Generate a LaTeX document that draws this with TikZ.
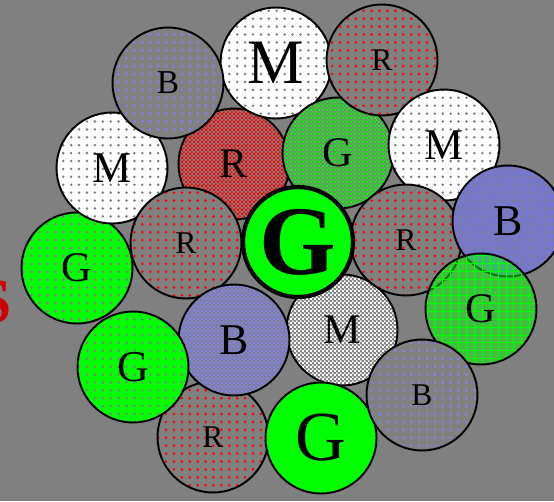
\documentclass[tikz,border=0pt]{standalone}
\usepackage{fontspec}
\setmainfont{Liberation Serif}
\usetikzlibrary{patterns,patterns.meta}

\definecolor{dotblue}{RGB}{128,128,255}
\definecolor{bluegray}{RGB}{120,120,200}

\pgfdeclarepatternformonly{finechecker}{\pgfpointorigin}{\pgfqpoint{2.4pt}{2.4pt}}{\pgfqpoint{2.4pt}{2.4pt}}{%
  \pgfpathrectangle{\pgfpointorigin}{\pgfqpoint{1.2pt}{1.2pt}}%
  \pgfpathrectangle{\pgfqpoint{1.2pt}{1.2pt}}{\pgfqpoint{1.2pt}{1.2pt}}%
  \pgfusepath{fill}}

\begin{document}
\begin{tikzpicture}[x=0.02cm, y=-0.02cm,
    ball/.style={circle, draw, line width=1.1pt, minimum size=2.22cm, inner sep=0pt},
    sz/.style={font=\fontsize{#1}{#1}\selectfont},
    spotted/.style 2 args={preaction={fill=#1}, pattern={Dots[distance=4.5pt, radius=0.8pt]}, pattern color=#2},
    checker/.style={preaction={fill=gray}, pattern=finechecker, pattern color=#1},
    meshed/.style={preaction={fill=green, fill opacity=0.5}, pattern={Hatch[distance=4.5pt, line width=0.5pt]}, pattern color=green}]
    \useasboundingbox (0,0) rectangle (554,501);
    \clip (0,0) rectangle (554,501);
    \fill[gray] (0,0) rectangle (554,501);

    \node[ball, checker=red, sz=24] (r1) at (234,164) {R};
    \node[ball, spotted={green}{gray}, sz=24] (g1) at (77,268) {G};
    \node[ball, spotted={white}{gray}, sz=25] (m1) at (112,168) {M};
    \node[ball, spotted={white}{gray}, sz=36] (m2) at (276,63) {M};
    \node[ball, spotted={gray}{dotblue}, sz=19] (b1) at (168,83) {B};
    \node[ball, checker=green, sz=24] (g2) at (338,153) {G};
    \node[ball, spotted={gray}{red}, sz=18] (r2) at (382,60) {R};
    \node[ball, spotted={white}{gray}, sz=25] (m3) at (444,145) {M};
    \node[ball, checker=white, sz=24] (m4) at (342,330) {M};
    \node[ball, spotted={gray}{red}, sz=18] (r3) at (406,240) {R};
    \node[ball, spotted={bluegray}{gray}, sz=25] (b2) at (508,221) {B};
    \node[ball, meshed, sz=24] (g3) at (481,309) {G};
    \node[ball, spotted={gray}{red}, sz=18] (r4) at (186,243) {R};
    \node[ball, spotted={gray}{red}, sz=18] (r5) at (213,437) {R};
    \node[ball, checker=dotblue, sz=25] (b3) at (234,340) {B};
    \node[ball, spotted={green}{gray}, sz=25] (g4) at (133,367) {G};
    \node[ball, fill=green, sz=40] (g5) at (321,438) {G};
    \node[ball, spotted={gray}{dotblue}, sz=18] (b4) at (422,395) {B};
    \node[ball, fill=green, line width=2.4pt, minimum size=2.2cm, font=\fontsize{56}{56}\selectfont\bfseries] (g0) at (298,242) {G};

    \node[text=red!80!black, font=\fontsize{36}{36}\selectfont\bfseries] (s) at (-6,302) {S};
\end{tikzpicture}
\end{document}
